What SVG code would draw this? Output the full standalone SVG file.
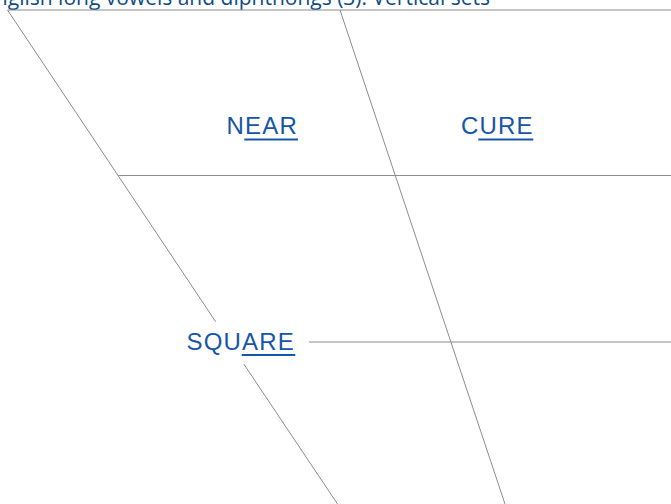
<svg xmlns="http://www.w3.org/2000/svg" width="671" height="504" viewBox="0 0 671 504">
<style>
.ln{stroke:#8c8c8c;stroke-width:1;fill:none}
.lbl{font-family:"Liberation Sans",Arial,sans-serif;font-size:24px;letter-spacing:1.2px;fill:#1655a8}
.ul{stroke:#1655a8;stroke-width:2;fill:none}
.title{font-family:"Open Sans",sans-serif;font-size:21px;fill:#0e4c84}
</style>
<rect width="671" height="504" fill="#ffffff"/>
<text class="title" x="490" y="4.5" text-anchor="end">English long vowels and diphthongs (3): Vertical sets</text>
<g id="connectors">
<line class="ln" x1="7.5" y1="10" x2="671" y2="10"/>
<line class="ln" x1="7.5" y1="10" x2="215.7" y2="321.7"/>
<line class="ln" x1="243.8" y1="364" x2="337.5" y2="504"/>
<line class="ln" x1="340" y1="10" x2="505" y2="504"/>
<line class="ln" x1="118.5" y1="175.5" x2="671" y2="175.5"/>
<line class="ln" x1="309" y1="342" x2="671" y2="342"/>
</g>
<g id="near">
<text class="lbl" x="226.5" y="134">NEAR</text>
<line class="ul" x1="244.3" y1="139.5" x2="298" y2="139.5"/>
</g>
<g id="cure">
<text class="lbl" x="461" y="134">CURE</text>
<line class="ul" x1="478.3" y1="139.5" x2="533.3" y2="139.5"/>
</g>
<g id="square">
<text class="lbl" x="186.5" y="350">SQUARE</text>
<line class="ul" x1="241.7" y1="355" x2="295.3" y2="355"/>
</g>
</svg>
